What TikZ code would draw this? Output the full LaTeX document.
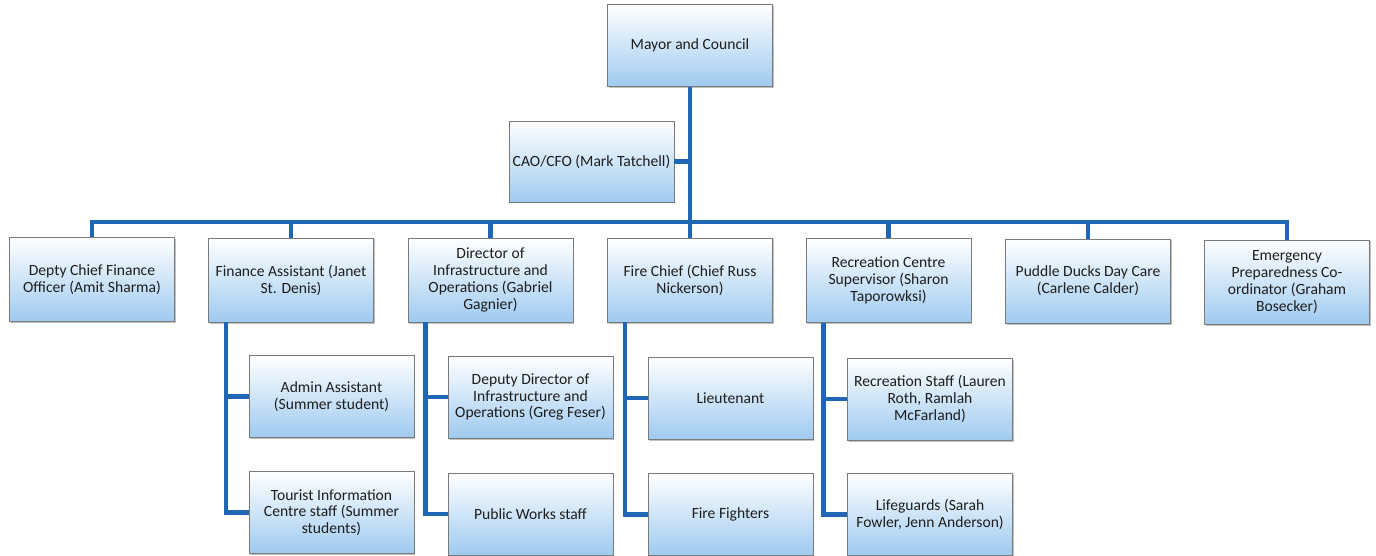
\documentclass[tikz,border=0pt]{standalone}
\usepackage{fontspec}
\setmainfont{Carlito}
\usetikzlibrary{shadows}
\definecolor{linkblue}{HTML}{1F66B5}
\definecolor{boxblue}{HTML}{9FCAF0}
\definecolor{boxedge}{HTML}{7A7A7A}
\definecolor{txt}{HTML}{1E1E1E}
\begin{document}
\begin{tikzpicture}[x=1pt,y=-1pt,
  box/.style={rectangle, draw=boxedge, line width=0.9pt, top color=white, bottom color=boxblue,
    minimum width=165, minimum height=82, align=center, text=txt, inner sep=1pt,
    font=\fontsize{15.6}{16.8}\selectfont,
    drop shadow={shadow xshift=1pt, shadow yshift=-1.5pt, opacity=0.35, fill=black!70}},
  link/.style={draw=linkblue, line width=4.3pt, line join=miter}]
\useasboundingbox (0,0) rectangle (1376,556);
% top
\node[box] (mayor) at (690,45.5) {Mayor and Council};
\node[box, minimum height=81] (cao) at (591.5,161.5) {CAO/CFO (Mark Tatchell)};
% row 1
\node[box, minimum height=84] (b1) at (92,279.5) {Depty Chief Finance\\Officer (Amit Sharma)};
\node[box, minimum height=84] (b2) at (291,280) {Finance Assistant (Janet\\St. Denis)};
\node[box, minimum height=84] (b3) at (490.5,280) {Director of\\Infrastructure and\\Operations (Gabriel\\Gagnier)};
\node[box, minimum height=84] (b4) at (690,280) {Fire Chief (Chief Russ\\Nickerson)};
\node[box, minimum height=84] (b5) at (888.5,280.5) {Recreation Centre\\Supervisor (Sharon\\Taporowksi)};
\node[box, minimum height=84] (b6) at (1088,281) {Puddle Ducks Day Care\\(Carlene Calder)};
\node[box, minimum height=84] (b7) at (1287,282) {Emergency\\Preparedness Co-\\ordinator (Graham\\Bosecker)};
% sub boxes
\node[box] (s21) at (331.5,396.5) {Admin Assistant\\(Summer student)};
\node[box] (s22) at (331.5,512.5) {Tourist Information\\Centre staff (Summer\\students)};
\node[box] (s31) at (530.5,397) {Deputy Director of\\Infrastructure and\\Operations (Greg Feser)};
\node[box] (s32) at (530.5,514) {Public Works staff};
\node[box] (s41) at (730.5,398) {Lieutenant};
\node[box] (s42) at (730.5,514.5) {Fire Fighters};
\node[box] (s51) at (930,399) {Recreation Staff (Lauren\\Roth, Ramlah\\McFarland)};
\node[box] (s52) at (930,514.5) {Lifeguards (Sarah\\Fowler, Jenn Anderson)};
% connectors
\coordinate (bus) at (0,222);
\draw[link] (mayor.south) -- (mayor.south |- bus);
\draw[link] (cao.east) -- (cao.east -| mayor.south);
\draw[link] (b1.north) -- (b1.north |- bus) -- (b7.north |- bus) -- (b7.north);
\foreach \b in {b2,b3,b4,b5,b6}{\draw[link] (\b.north) -- (\b.north |- bus);}
\foreach \b/\s in {b2/s2,b3/s3,b4/s4,b5/s5}{
  \draw[link] ([xshift=18pt]\b.south west) |- (\s2.west);
  \draw[link] ([xshift=18pt]\b.south west) |- (\s1.west);
}
\end{tikzpicture}
\end{document}
